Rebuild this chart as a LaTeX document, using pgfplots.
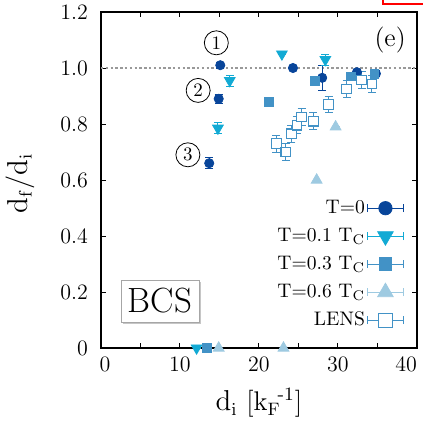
\documentclass[border=0pt]{standalone}
\usepackage{amsmath}
\usepackage{pgfplots}
\pgfplotsset{compat=1.18}
\usetikzlibrary{shadows}
\definecolor{cA}{HTML}{08459A}
\definecolor{cB}{HTML}{12AAD4}
\definecolor{cC}{HTML}{4292C6}
\definecolor{cD}{HTML}{9ECAE1}
\pgfplotstableread{
x y e
15.1 1.010 0.010
24.3 1.000 0.010
14.9 0.890 0.015
13.7 0.660 0.020
28.0 0.965 0.045
32.4 0.985 0.010
34.8 0.980 0.010
}\tA
\pgfplotstableread{
x y e
22.9 1.050 0.0
28.4 1.030 0.020
16.3 0.955 0.020
14.8 0.785 0.020
12.1 0.000 0.0
}\tB
\pgfplotstableread{
x y e
21.3 0.880 0.0
27.1 0.955 0.0
31.6 0.970 0.0
34.6 0.980 0.0
13.4 0.000 0.0
}\tC
\pgfplotstableread{
x y e
29.7 0.790 0.0
27.3 0.600 0.0
14.9 0.000 0.0
23.1 0.000 0.0
}\tD
\pgfplotstableread{
x y ex ey
22.2 0.730 0.4 0.030
23.4 0.700 0.4 0.030
24.1 0.765 0.4 0.030
24.8 0.796 0.4 0.030
25.4 0.825 0.4 0.030
26.9 0.810 0.4 0.030
28.8 0.870 0.4 0.030
31.1 0.925 0.4 0.030
33.0 0.957 0.4 0.030
34.3 0.943 0.4 0.030
}\tE
\begin{document}
\begin{tikzpicture}
\begin{axis}[
  width=158pt, height=168pt, scale only axis,
  xmin=0, xmax=40, ymin=0, ymax=1.2,
  clip=false,
  xtick={0,5,10,15,20,25,30,35,40},
  xticklabels={\hspace*{4pt}0,,10,,20,,30,,\llap{40}},
  ytick={0,0.2,0.4,0.6,0.8,1.0,1.2},
  yticklabels={0,0.2,0.4,0.6,0.8,1.0,1.2},
  tick align=inside, major tick length=2.5pt,
  axis line style={line width=0.8pt},
  tick style={line width=0.5pt, black},
  ticklabel style={font=\fontsize{11}{13}\selectfont},
  yticklabel style={xshift=-3pt},
  xticklabel style={yshift=-1pt},
  xlabel={$\mathrm{d_i}$\ [k$_\mathrm{F}$\kern-1.5pt$^{\text{-1}}$]},
  ylabel={$\mathrm{d_f/d_i}$},
  every axis x label/.style={at={(rel axis cs:0.5,-0.163)}, anchor=center, font=\fontsize{13.5}{15}\selectfont},
  every axis y label/.style={at={(rel axis cs:-0.2563,0.49)}, anchor=center, rotate=90, font=\fontsize{13.5}{15}\selectfont},
  legend cell align=right,
  legend plot pos=right,
  legend style={at={(rel axis cs:0.96,0.45)}, anchor=north east, draw=none, fill=none,
    font=\fontsize{9.8}{11}\selectfont, row sep=3pt, inner sep=0pt,
    nodes={inner sep=1pt, text height=7pt, text depth=2pt},
    /tikz/every even column/.style={column sep=6pt}},
  legend image code/.code={
    \draw[#1, mark=none, solid, line width=0.5pt] (0pt,-2pt)--(0pt,2pt) (0pt,0pt)--(18pt,0pt) (18pt,-2pt)--(18pt,2pt);
    \draw[#1, every mark/.append style={scale=1.45}] plot coordinates {(9pt,0pt)};
  },
]
\addplot[gray!80, line width=0.7pt, dash pattern=on 1.2pt off 1.2pt, forget plot] coordinates {(0,1) (40,1)};

\addplot[only marks, color=cA, mark=*, mark size=2.3pt, mark options={fill=cA, draw=cA},
  error bars/.cd, y dir=both, y explicit,
  error bar style={line width=0.5pt, cA},
  error mark options={rotate=90, mark size=2pt, line width=0.5pt, cA}]
  table[x=x, y=y, y error=e] {\tA};
\addlegendentry{T=0}

\addplot[only marks, color=cB, mark=triangle*, mark size=3.1pt, mark options={fill=cB, draw=cB, rotate=180},
  error bars/.cd, y dir=both, y explicit,
  error bar style={line width=0.5pt, cB},
  error mark options={rotate=90, mark size=2pt, line width=0.5pt, cB}]
  table[x=x, y=y, y error=e] {\tB};
\addlegendentry{T=0.1 T$_\mathrm{C}$}

\addplot[only marks, color=cC, mark=square*, mark size=2.2pt, mark options={fill=cC, draw=cC},
  error bars/.cd, y dir=both, y explicit,
  error bar style={line width=0.5pt, cC},
  error mark options={rotate=90, mark size=2pt, line width=0.5pt, cC}]
  table[x=x, y=y, y error=e] {\tC};
\addlegendentry{T=0.3 T$_\mathrm{C}$}

\addplot[only marks, color=cD, mark=triangle*, mark size=3.1pt, mark options={fill=cD, draw=cD},
  error bars/.cd, y dir=both, y explicit,
  error bar style={line width=0.5pt, cD},
  error mark options={rotate=90, mark size=2pt, line width=0.5pt, cD}]
  table[x=x, y=y, y error=e] {\tD};
\addlegendentry{T=0.6 T$_\mathrm{C}$}

\addplot[only marks, color=cC, mark=square*, mark size=2.4pt, mark options={fill=white, draw=cC, line width=0.6pt},
  error bars/.cd, y dir=both, y explicit, x dir=both, x explicit,
  error bar style={line width=0.5pt, cC},
  error mark options={rotate=90, mark size=2pt, line width=0.5pt, cC}]
  table[x=x, y=y, x error=ex, y error=ey] {\tE};
\addlegendentry{LENS}

\node[circle, draw, line width=0.4pt, minimum size=12pt, inner sep=0pt, font=\fontsize{9.5}{10}\selectfont] at (axis cs:14.6,1.09) {1};
\node[circle, draw, line width=0.4pt, minimum size=12pt, inner sep=0pt, font=\fontsize{9.5}{10}\selectfont] at (axis cs:12.3,0.92) {2};
\node[circle, draw, line width=0.4pt, minimum size=12pt, inner sep=0pt, font=\fontsize{9.5}{10}\selectfont] at (axis cs:11.0,0.69) {3};
\node[font=\fontsize{13}{14}\selectfont] at (axis cs:36.6,1.10) {(e)};
\node[draw=gray!70, line width=0.4pt, fill=white, minimum width=39pt, minimum height=21pt, inner sep=0pt,
  drop shadow={shadow xshift=1.2pt, shadow yshift=-1.2pt, fill=gray!45, opacity=1},
  font=\fontsize{17.5}{18}\selectfont] at (axis cs:7.47,0.168) {BCS};
\draw[red, line width=1pt] (axis cs:35.7,1.2429) -- (axis cs:35.7,1.2286) -- ([xshift=3pt]axis cs:40,1.2286);
\end{axis}
\pgfresetboundingbox
\path[use as bounding box] ([shift={(-50.5pt,-38.5pt)}]current axis.south west) rectangle ++(211.5pt,212.5pt);
\end{tikzpicture}
\end{document}
